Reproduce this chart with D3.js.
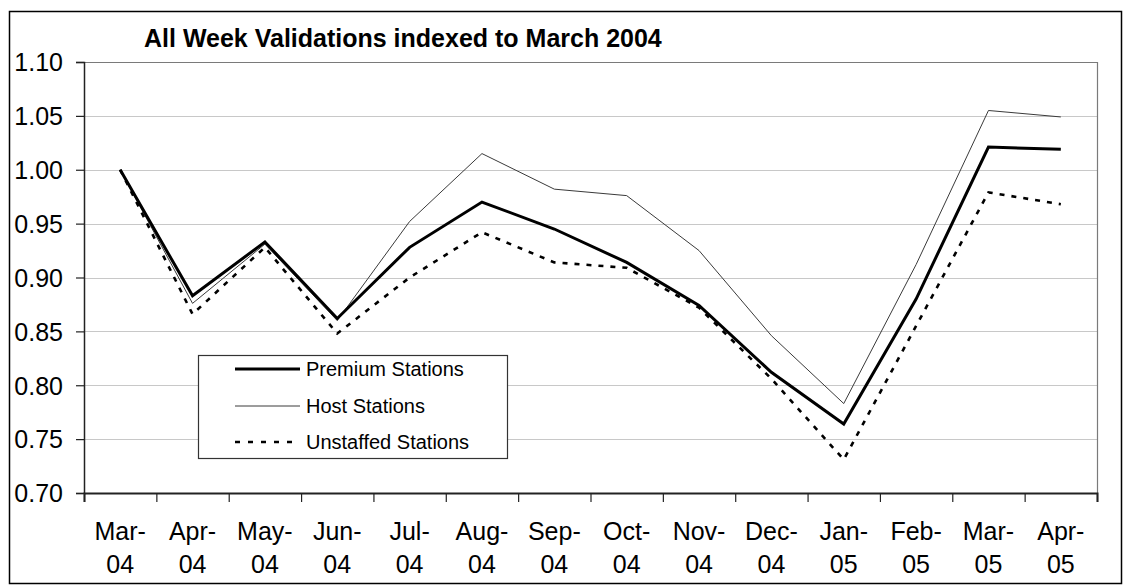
<!DOCTYPE html>
<html>
<head>
<meta charset="utf-8">
<script src="https://cdn.jsdelivr.net/npm/d3@7"></script>
<style>
  html, body { margin: 0; padding: 0; background: #fff; }
  svg { display: block; }
  text { font-family: "Liberation Sans", Arial, sans-serif; fill: #000; }
</style>
</head>
<body>
<svg id="chart" width="1127" height="587"></svg>
<script>
// Monthly all-week validations, indexed to March 2004 = 1.00
const months = ["Mar-04", "Apr-04", "May-04", "Jun-04", "Jul-04", "Aug-04", "Sep-04",
                "Oct-04", "Nov-04", "Dec-04", "Jan-05", "Feb-05", "Mar-05", "Apr-05"];
const premium   = [1.000, 0.883, 0.933, 0.862, 0.928, 0.970, 0.945, 0.914, 0.874, 0.812, 0.764, 0.880, 1.021, 1.019];
const host      = [1.000, 0.876, 0.931, 0.860, 0.952, 1.015, 0.982, 0.976, 0.925, 0.846, 0.783, 0.912, 1.055, 1.049];
const unstaffed = [1.000, 0.866, 0.928, 0.848, 0.900, 0.942, 0.914, 0.909, 0.872, 0.806, 0.731, 0.855, 0.979, 0.968];
const yTicks = [0.70, 0.75, 0.80, 0.85, 0.90, 0.95, 1.00, 1.05, 1.10];
const title = "All Week Validations indexed to March 2004";
const seriesNames = ["Premium Stations", "Host Stations", "Unstaffed Stations"];

const svg = d3.select("#chart");
const plot = { left: 84, right: 1097, top: 62, bottom: 493 };

const x = d3.scaleBand().domain(months).range([plot.left, plot.right]).paddingInner(0).paddingOuter(0);
const y = d3.scaleLinear().domain([0.70, 1.10]).range([plot.bottom, plot.top]);
const xc = m => x(m) + x.bandwidth() / 2;

// chart frame
svg.append("rect")
  .attr("x", 9.5).attr("y", 11.5).attr("width", 1112).attr("height", 572)
  .attr("fill", "#fff").attr("stroke", "#000").attr("stroke-width", 1.5);

// horizontal gridlines
svg.append("g").selectAll("line")
  .data(yTicks.filter(v => v > 0.70 && v < 1.10))
  .join("line")
  .attr("x1", plot.left).attr("x2", plot.right)
  .attr("y1", d => Math.round(y(d)) + 0.5).attr("y2", d => Math.round(y(d)) + 0.5)
  .attr("stroke", "#c8c8c8").attr("stroke-width", 1);

// plot area border (top and right)
svg.append("path")
  .attr("d", `M${plot.left},${plot.top + 0.5}H${plot.right + 0.5}V${plot.bottom}`)
  .attr("fill", "none").attr("stroke", "#7a7a7a").attr("stroke-width", 1.2);

// y axis
const yAxis = svg.append("g")
  .attr("transform", `translate(${plot.left},0)`)
  .call(d3.axisLeft(y).tickValues(yTicks).tickSize(8).tickPadding(13).tickFormat(d3.format(".2f")));
yAxis.select(".domain").attr("stroke", "#222").attr("stroke-width", 1.5);
yAxis.selectAll(".tick line").attr("stroke", "#222").attr("stroke-width", 1.2);
yAxis.selectAll(".tick text")
  .attr("font-size", 25).attr("font-family", "Liberation Sans, Arial, sans-serif")
  .attr("fill", "#000").attr("dy", "0.35em");

// x axis: boundary tick marks
const xb = d3.scaleLinear().domain([0, months.length]).range([plot.left, plot.right]);
const xTickAxis = svg.append("g")
  .attr("transform", `translate(0,${plot.bottom})`)
  .call(d3.axisBottom(xb).ticks(months.length).tickSize(9).tickFormat(""));
xTickAxis.select(".domain").attr("stroke", "#222").attr("stroke-width", 2);
xTickAxis.selectAll(".tick line").attr("stroke", "#222").attr("stroke-width", 1.2);

// x axis: wrapped month labels
const xAxis = svg.append("g")
  .attr("transform", `translate(0,${plot.bottom})`)
  .call(d3.axisBottom(x).tickSize(0).tickFormat(""));
xAxis.select(".domain").remove();
xAxis.selectAll(".tick").each(function(d) {
  const parts = d.split("-");
  const t = d3.select(this).append("text")
    .attr("text-anchor", "middle")
    .attr("font-size", 25)
    .attr("font-family", "Liberation Sans, Arial, sans-serif")
    .attr("fill", "#000");
  t.append("tspan").attr("x", 0).attr("y", 47).text(parts[0] + "-");
  t.append("tspan").attr("x", 0).attr("y", 80).text(parts[1]);
});

// series lines
const line = d3.line().x((d, i) => xc(months[i])).y(d => y(d));
svg.append("path").datum(host)
  .attr("d", line).attr("fill", "none")
  .attr("stroke", "#3a3a3a").attr("stroke-width", 1);
svg.append("path").datum(unstaffed)
  .attr("d", line).attr("fill", "none")
  .attr("stroke", "#000").attr("stroke-width", 2.6).attr("stroke-dasharray", "5,7");
svg.append("path").datum(premium)
  .attr("d", line).attr("fill", "none")
  .attr("stroke", "#000").attr("stroke-width", 3).attr("stroke-linejoin", "miter");

// title with its white backing
svg.append("rect")
  .attr("x", 97).attr("y", 18).attr("width", 644).attr("height", 44)
  .attr("fill", "#fff");
svg.append("text")
  .attr("x", 144).attr("y", 47)
  .attr("font-size", 25).attr("font-weight", "bold")
  .text(title);

// legend
const legend = svg.append("g");
legend.append("rect")
  .attr("x", 198.5).attr("y", 355.5).attr("width", 309).attr("height", 103)
  .attr("fill", "#fff").attr("stroke", "#333").attr("stroke-width", 1.2);
const legendStyles = [
  { stroke: "#000", width: 3, dash: null },
  { stroke: "#3a3a3a", width: 1, dash: null },
  { stroke: "#000", width: 2.6, dash: "5,8" }
];
const legendRows = [369, 406, 442];
seriesNames.forEach((name, i) => {
  legend.append("line")
    .attr("x1", 235).attr("x2", 300)
    .attr("y1", legendRows[i]).attr("y2", legendRows[i])
    .attr("stroke", legendStyles[i].stroke)
    .attr("stroke-width", legendStyles[i].width)
    .attr("stroke-dasharray", legendStyles[i].dash);
  legend.append("text")
    .attr("x", 306).attr("y", legendRows[i]).attr("dy", "0.36em")
    .attr("font-size", 20)
    .text(name);
});
</script>
</body>
</html>
